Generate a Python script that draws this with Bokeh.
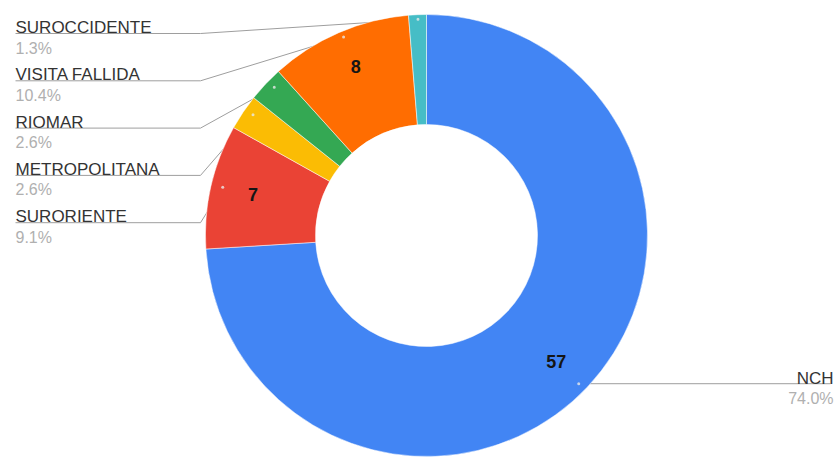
import math
from bokeh.plotting import figure
from bokeh.models import Range1d, ColumnDataSource
from bokeh.core.properties import value
from bokeh.embed import file_html
from bokeh.resources import INLINE

# ---- data ----
categories = ["NCH", "SURORIENTE", "METROPOLITANA", "RIOMAR", "VISITA FALLIDA", "SUROCCIDENTE"]
values = [57, 7, 2, 2, 8, 1]
colors = ["#4285f4", "#ea4335", "#fbbc04", "#34a853", "#ff6d01", "#46bdc6"]
left_order = ["SUROCCIDENTE", "VISITA FALLIDA", "RIOMAR", "METROPOLITANA", "SURORIENTE"]

# ---- layout constants (page pixels) ----
W, H = 835, 463
CX, CY = 426, 235          # donut centre (screen coords)
R_OUT, R_IN = 221, 111
R_LEAD = 209               # leader-line end radius
R_VAL = 178                # value label radius
VSTRETCH = 1.035           # slight vertical stretch of label anchor points
FONT = "Liberation Sans"

def sy(y):
    return H - y

total = sum(values)
pcts = [f"{v / total * 100:.1f}%" for v in values]

# clockwise-from-top angles
starts, ends, mids = [], [], []
acc = 0.0
for v in values:
    a0 = acc / total * 2 * math.pi
    acc += v
    a1 = acc / total * 2 * math.pi
    starts.append(a0); ends.append(a1); mids.append((a0 + a1) / 2)

# bokeh angles (counterclockwise from +x)
b_start = [math.pi / 2 - e for e in ends]
b_end = [math.pi / 2 - s for s in starts]

def polar(theta, r):
    return CX + r * math.sin(theta), CY - r * math.cos(theta) * VSTRETCH

p = figure(width=W, height=H, output_backend="svg", toolbar_location=None,
           x_range=Range1d(0, W), y_range=Range1d(0, H), min_border=0)
p.axis.visible = False
p.grid.visible = False
p.outline_line_color = None
p.background_fill_color = "white"
p.border_fill_color = "white"

# ---- leader lines ----
xs, ys, dot_x, dot_y = [], [], [], []
row_y0, row_step = 33, 47.3
lab_x, lab_y, lab_t = [], [], []
pct_x, pct_y, pct_t = [], [], []
for i, name in enumerate(left_order):
    k = categories.index(name)
    ly = row_y0 + i * row_step
    ex, ey = polar(mids[k], R_LEAD)
    xs.append([15, 200, ex]); ys.append([sy(ly), sy(ly), sy(ey)])
    dot_x.append(ex); dot_y.append(sy(ey))
    lab_x.append(15); lab_y.append(sy(ly - 6)); lab_t.append(name)
    pct_x.append(15); pct_y.append(sy(ly + 6)); pct_t.append(pcts[k])

# right label (NCH)
k = categories.index("NCH")
ex, ey = polar(mids[k], R_LEAD)
xs.append([ex, 830]); ys.append([sy(ey), sy(ey)])
dot_x.append(ex); dot_y.append(sy(ey))
r_lab = dict(x=[833], y=[sy(ey - 5)], t=["NCH"])
r_pct = dict(x=[833], y=[sy(ey + 6)], t=[pcts[k]])

p.multi_line(xs=xs, ys=ys, line_color="#9e9e9e", line_width=1)

# ---- donut ----
src = ColumnDataSource(dict(start=b_start, end=b_end, color=colors))
p.annular_wedge(x=CX, y=sy(CY), inner_radius=R_IN, outer_radius=R_OUT,
                start_angle="start", end_angle="end", fill_color="color",
                line_color="white", line_width=0.5, source=src)

p.scatter(x=dot_x, y=dot_y, size=3, fill_color="#e8e8e8", line_color=None, alpha=0.8)

# ---- value labels inside slices (only bigger slices) ----
vx, vy, vt = [], [], []
for i, v in enumerate(values):
    if v / total >= 0.05:
        x, y = polar(mids[i], R_VAL)
        vx.append(x); vy.append(sy(y)); vt.append(str(v))
p.text(x=vx, y=vy, text=vt, text_align="center", text_baseline="middle",
       text_font=value(FONT), text_font_size="18px", text_font_style="bold",
       text_color="#151515")

# ---- outside labels ----
p.text(x=lab_x, y=lab_y, text=lab_t, text_align="left", text_baseline="alphabetic",
       text_font=value(FONT), text_font_size="17px", text_color="#333333")
p.text(x=pct_x, y=pct_y, text=pct_t, text_align="left", text_baseline="top",
       text_font=value(FONT), text_font_size="16px", text_color="#b0b0b0")
p.text(x=r_lab["x"], y=r_lab["y"], text=r_lab["t"], text_align="right", text_baseline="alphabetic",
       text_font=value(FONT), text_font_size="17px", text_color="#333333")
p.text(x=r_pct["x"], y=r_pct["y"], text=r_pct["t"], text_align="right", text_baseline="top",
       text_font=value(FONT), text_font_size="16px", text_color="#b0b0b0")

open("out.html", "w").write(file_html(p, INLINE))
